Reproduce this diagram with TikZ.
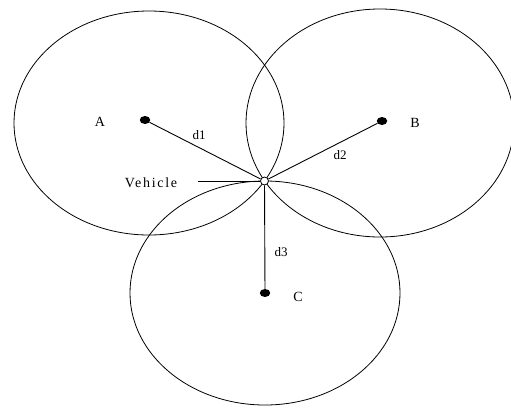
\documentclass[tikz,border=0pt]{standalone}
\usepackage{fontspec}
\setmainfont{Liberation Serif}
\usetikzlibrary{positioning, calc, shapes.geometric}

\begin{document}
\begin{tikzpicture}[
    x=1pt, y=-1pt,
    rangering/.style={draw=black, line width=0.8pt},
    station/.style={ellipse, fill=black, inner sep=0pt, minimum width=10.5pt, minimum height=8pt},
    vehicle/.style={circle, draw=black, fill=white, line width=0.8pt, inner sep=0pt, minimum size=8pt},
    link/.style={draw=black, line width=0.9pt},
    lbl/.style={font=\fontsize{14}{14}\selectfont},
    dist/.style={font=\fontsize{13}{13}\selectfont}
]
\useasboundingbox (0,0) rectangle (511,413);

% --- Range circles ---
\draw[rangering] (149,123) ellipse [x radius=135, y radius=112];
\draw[rangering] (380,123) ellipse [x radius=134, y radius=114];
\draw[rangering] (265,293) ellipse [x radius=135, y radius=112];

% --- Stations ---
\node[station] (A) at (145,120) {};
\node[station] (B) at (382,121) {};
\node[station] (C) at (265,293) {};

% --- Vehicle ---
\node[vehicle] (veh) at (264.5,181) {};
\coordinate (vtail) at (198,181);

% --- Distances ---
\draw[link] (A) -- (veh);
\draw[link] (B) -- (veh);
\draw[link] (C) -- (veh);
\draw[link] (vtail) -- (veh);

% --- Labels ---
\node[lbl] at (100,122) {A};
\node[lbl] at (415,123) {B};
\node[lbl] at (298,297) {C};
\node[lbl] at (151,183) {\addfontfeature{LetterSpace=12}Vehicle};
\node[dist] at (199,135) {d1};
\node[dist] at (340,155) {d2};
\node[dist] at (281,252) {d3};

\end{tikzpicture}
\end{document}
